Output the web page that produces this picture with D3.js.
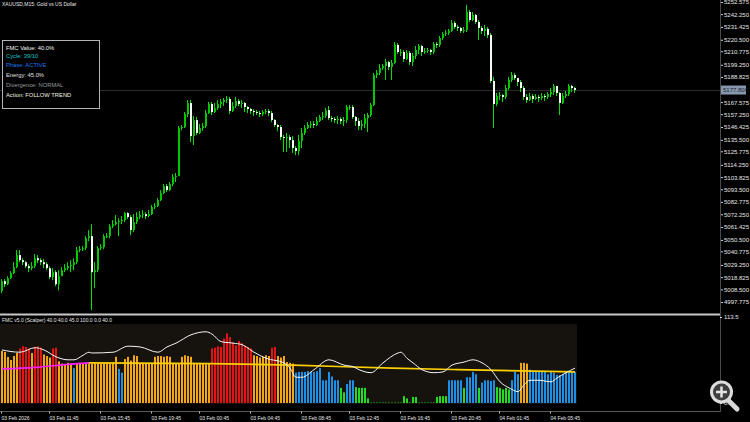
<!DOCTYPE html>
<html><head><meta charset="utf-8">
<script src="https://cdn.jsdelivr.net/npm/d3@7"></script>
<style>html,body{margin:0;padding:0;background:#000;}svg{display:block;}</style>
</head><body>
<svg id="c" width="750" height="422"></svg>
<script>
// ---------------- DATA ----------------
const symbolTitle = "XAUUSD,M15: Gold vs US Dollar";
const indicatorTitle = "FMC v5.0 (Scalper) 40.0 40.0 45.0 100.0 0.0 40.0";
const infoLines = ["FMC Value: 40.0%","Cycle: 39/10","Phase: ACTIVE","Energy: 45.0%","Divergence: NORMAL","Action: FOLLOW TREND"];

const opens = [5007.0,5015.5,5012.9,5018.0,5022.3,5027.4,5037.6,5033.3,5031.6,5028.2,
5026.5,5028.2,5035.0,5033.3,5031.6,5029.9,5026.5,5018.9,5023.1,5012.9,
5019.7,5024.8,5026.5,5028.2,5029.1,5031.6,5041.8,5042.7,5043.5,5052.0,
5053.7,5023.1,5024.8,5043.5,5044.4,5053.7,5053.7,5062.2,5063.9,5065.6,
5066.5,5067.3,5073.3,5069.9,5058.8,5065.6,5069.9,5071.6,5072.4,5070.7,
5072.4,5078.4,5079.2,5084.3,5090.3,5096.2,5092.8,5097.9,5103.9,5104.7,
5145.5,5146.4,5157.4,5166.8,5138.7,5152.3,5141.3,5145.5,5147.2,5158.3,
5165.9,5159.1,5162.5,5165.9,5167.6,5169.3,5170.2,5160.0,5164.2,5168.5,
5165.9,5166.8,5163.4,5161.7,5160.0,5159.1,5158.3,5157.4,5159.1,5160.0,
5158.3,5152.3,5148.1,5146.4,5137.9,5137.0,5137.9,5135.3,5128.5,5126.0,
5134.5,5141.3,5145.5,5148.1,5148.9,5148.1,5151.5,5154.9,5155.7,5160.8,
5154.0,5153.2,5152.3,5153.2,5151.5,5152.3,5163.4,5163.4,5154.9,5151.5,
5147.2,5148.9,5154.0,5156.6,5165.1,5190.6,5192.3,5196.5,5198.2,5201.6,
5197.4,5200.8,5216.1,5210.1,5210.1,5204.2,5209.3,5201.6,5206.7,5211.8,
5215.2,5210.1,5211.0,5211.8,5210.1,5216.9,5216.1,5222.0,5225.4,5226.3,
5228.0,5234.8,5231.4,5230.5,5228.0,5228.8,5244.1,5237.3,5241.6,5235.6,
5230.5,5228.0,5229.7,5224.6,5185.5,5165.9,5172.7,5173.6,5171.9,5179.5,
5186.3,5190.6,5188.0,5184.6,5179.5,5171.9,5169.3,5172.7,5170.2,5171.9,
5171.0,5172.7,5171.9,5174.4,5176.1,5181.2,5175.3,5166.8,5172.7,5174.4,
5181.2,5179.5];
const closes = [5015.5,5012.9,5018.0,5022.3,5027.4,5037.6,5033.3,5031.6,5028.2,5026.5,
5028.2,5035.0,5033.3,5031.6,5029.9,5026.5,5018.9,5023.1,5012.9,5019.7,
5024.8,5026.5,5028.2,5029.1,5031.6,5041.8,5042.7,5043.5,5052.0,5053.7,
5023.1,5024.8,5043.5,5044.4,5053.7,5053.7,5062.2,5063.9,5065.6,5066.5,
5067.3,5073.3,5069.9,5058.8,5065.6,5069.9,5071.6,5072.4,5070.7,5072.4,
5078.4,5079.2,5084.3,5090.3,5096.2,5092.8,5097.9,5103.9,5104.7,5145.5,
5146.4,5157.4,5166.8,5138.7,5152.3,5141.3,5145.5,5147.2,5158.3,5165.9,
5159.1,5162.5,5165.9,5167.6,5169.3,5170.2,5160.0,5164.2,5168.5,5165.9,
5166.8,5163.4,5161.7,5160.0,5159.1,5158.3,5157.4,5159.1,5160.0,5158.3,
5152.3,5148.1,5146.4,5137.9,5137.0,5137.9,5135.3,5128.5,5126.0,5134.5,
5141.3,5145.5,5148.1,5148.9,5148.1,5151.5,5154.9,5155.7,5160.8,5154.0,
5153.2,5152.3,5153.2,5151.5,5152.3,5163.4,5163.4,5154.9,5151.5,5147.2,
5148.9,5154.0,5156.6,5165.1,5190.6,5192.3,5196.5,5198.2,5201.6,5197.4,
5200.8,5216.1,5210.1,5210.1,5204.2,5209.3,5201.6,5206.7,5211.8,5215.2,
5210.1,5211.0,5211.8,5210.1,5216.9,5216.1,5222.0,5225.4,5226.3,5228.0,
5234.8,5231.4,5230.5,5228.0,5228.8,5244.1,5237.3,5241.6,5235.6,5230.5,
5228.0,5229.7,5224.6,5185.5,5165.9,5172.7,5173.6,5171.9,5179.5,5186.3,
5190.6,5188.0,5184.6,5179.5,5171.9,5169.3,5172.7,5170.2,5171.9,5171.0,
5172.7,5171.9,5174.4,5176.1,5181.2,5175.3,5166.8,5172.7,5174.4,5181.2,
5179.5,5177.8];
const highs = [5017.2,5017.2,5019.7,5024.0,5031.6,5041.8,5041.8,5035.0,5032.5,5029.9,
5031.6,5038.4,5037.6,5035.0,5034.2,5031.6,5028.2,5026.5,5024.8,5024.8,
5027.4,5029.9,5031.6,5033.3,5035.0,5044.4,5045.2,5045.2,5053.7,5058.8,
5063.9,5031.6,5045.2,5046.9,5055.4,5056.3,5063.9,5067.3,5071.6,5069.0,
5070.7,5074.1,5074.1,5071.6,5072.4,5074.1,5075.0,5075.8,5074.1,5075.8,
5080.1,5081.8,5086.0,5092.8,5097.9,5097.9,5099.6,5106.4,5107.3,5147.2,
5148.1,5159.1,5169.3,5169.3,5155.7,5154.9,5148.9,5149.8,5160.8,5167.6,
5167.6,5166.8,5169.3,5170.2,5171.0,5172.7,5171.9,5167.6,5171.9,5170.2,
5169.3,5167.6,5164.2,5162.5,5161.7,5160.8,5160.0,5160.8,5161.7,5161.7,
5160.0,5153.2,5148.9,5148.1,5139.6,5141.3,5139.6,5138.7,5130.2,5139.6,
5145.5,5148.1,5150.6,5151.5,5151.5,5154.9,5156.6,5159.1,5162.5,5164.2,
5155.7,5154.9,5155.7,5154.9,5154.9,5165.1,5165.1,5165.1,5155.7,5154.0,
5152.3,5157.4,5158.3,5166.8,5192.3,5194.8,5199.9,5199.9,5204.2,5202.5,
5203.3,5218.6,5217.7,5212.7,5211.8,5211.8,5211.0,5209.3,5215.2,5216.9,
5216.1,5213.5,5213.5,5212.7,5218.6,5218.6,5223.7,5227.1,5228.8,5229.7,
5237.3,5236.5,5233.1,5231.4,5231.4,5250.1,5245.8,5244.1,5242.4,5237.3,
5232.2,5233.1,5231.4,5226.3,5188.9,5175.3,5176.1,5174.4,5182.1,5188.9,
5193.1,5192.3,5188.0,5186.3,5181.2,5174.4,5175.3,5174.4,5174.4,5173.6,
5175.3,5174.4,5176.1,5179.5,5182.9,5181.2,5176.1,5175.3,5177.0,5182.9,
5182.1,5180.4];
const lows = [5005.3,5010.4,5012.1,5017.2,5021.4,5026.5,5031.6,5029.1,5026.5,5023.1,
5024.8,5026.5,5030.8,5029.1,5026.5,5024.8,5017.2,5016.3,5011.2,5007.8,
5020.6,5023.1,5024.8,5023.1,5024.8,5029.9,5040.1,5041.0,5041.8,5049.5,
4990.8,5009.5,5023.1,5041.8,5042.7,5052.0,5052.0,5060.5,5062.8,5053.7,
5063.9,5065.6,5068.2,5054.6,5057.1,5063.9,5068.2,5069.0,5068.2,5069.9,
5071.6,5076.7,5078.4,5083.5,5089.4,5091.1,5092.0,5096.2,5099.6,5104.7,
5143.8,5145.5,5154.9,5133.6,5131.1,5139.6,5140.4,5143.0,5145.5,5157.4,
5156.6,5158.3,5160.8,5162.5,5164.2,5166.8,5157.4,5159.1,5162.5,5164.2,
5162.5,5159.1,5158.3,5157.4,5155.7,5156.6,5154.9,5155.7,5157.4,5155.7,
5150.6,5146.4,5143.0,5135.3,5125.1,5125.1,5128.5,5124.3,5122.6,5122.6,
5128.5,5139.6,5144.7,5145.5,5145.5,5147.2,5150.6,5152.3,5154.0,5152.3,
5150.6,5149.8,5148.9,5148.9,5147.2,5149.8,5160.8,5153.2,5147.2,5143.8,
5143.8,5145.5,5142.1,5154.9,5164.2,5188.0,5190.6,5194.8,5186.3,5194.8,
5186.3,5199.9,5208.4,5206.7,5201.6,5203.3,5199.1,5198.2,5204.2,5208.4,
5206.7,5208.4,5209.3,5207.6,5208.4,5213.5,5214.4,5220.3,5223.7,5224.6,
5227.1,5229.7,5228.0,5226.3,5226.3,5227.1,5235.6,5236.5,5233.9,5220.3,
5225.4,5223.7,5222.0,5183.8,5145.5,5164.2,5169.3,5167.6,5170.2,5177.8,
5184.6,5186.3,5181.2,5176.1,5169.3,5166.8,5168.5,5166.8,5169.3,5167.6,
5169.3,5168.5,5170.2,5171.9,5173.6,5172.7,5156.6,5165.9,5171.0,5172.7,
5176.1,5175.3];

const fmcHist = [68.6,67.3,60.7,56.8,62.0,66.0,72,75,74,72,
66,74,75,73,64,62,60,72,73,55,
52,51,53,52,46,52,53,52,53,53,
52,53,53,52,53,53,52,53,61,45,
40,58,61,56,63,62,53,53,52,53,
53,61,62,62,61,62,61,53,53,52,
61,63,62,61,53,52,53,52,51,52,
72,73,75,74,85,92,87,80,76,82,
79,75,74,72,63,62,60,61,63,62,
73,74,62,60,62,54,53,52,40,41,
41,41,42,41,41,42,46,30,30,41,
35,30,30,20,14,25,30,30,21,20,
20,20,6,1.5,1.5,1.5,1.5,1.5,1.5,1.5,
1.5,1.5,1.5,1.5,9,6,1.5,8,8,1.5,
1.5,1.5,1.5,1.5,1.5,8,9,9,9,30,
30,30,30,30,20,34,34,41,38,20,
27,30,30,29,30,21,20,18,20,18,
30,41,38,53,53,52,44,41,41,42,
41,41,38,41,40,37,37,38,41,41,
42,41];

const whiteIdx = [0,6,11,14,18,22,24,27,29,30,37,42,46,52,55,58,63,68,70,73,77,80,84,88,94,96,98,100,104,109,114,117,119,123,127,132,133,135,137,140,144,147,150,154,157,160,163,166,169,172,174,176,179,183,185,188,191];
const whiteVal = [70,67,73,70,61,57,57,63,67,66,67,75,74,67,74,79,90,94,91,81,79,77,67,59,53,46,34,34,44,57,50,48,44,40,53,66,67,59,53,44,40,41,50,54,57,53,44,28,20,15,24,30,30,28,33,40,46];
const magentaIdx = [0,11,22,29];
const magentaVal = [45,47,51,53];
const yellowIdx = [29,70,97,130,152,191];
const yellowVal = [53,52,50,46,44,41];

const priceTickLabels = ["5252.575","5242.250","5231.425","5220.500","5210.775","5199.250","5188.825","5167.575","5157.250","5146.425","5135.500","5125.775","5114.250","5103.825","5093.500","5082.775","5072.250","5061.425","5050.500","5040.775","5029.250","5018.825","5008.500","4997.775"];
const timeTickIdx = [0,16,33,50,66,83,100,116,133,150,166,183];
const timeLabels = ["03 Feb 2026","03 Feb 11:45","03 Feb 15:45","03 Feb 19:45","03 Feb 00:45","03 Feb 04:45","03 Feb 08:45","03 Feb 12:45","03 Feb 16:45","03 Feb 20:45","04 Feb 01:45","04 Feb 05:45"];
const indTicks = [113.5, 0];

// ---------------- LAYOUT ----------------
const svg = d3.select("#c");
const FONT = "'Liberation Sans', Arial, sans-serif";
const AX = 720;           // right axis x
const n = closes.length;
const x = d3.scaleLinear().domain([0, n - 1]).range([1, 1 + 3 * (n - 1)]);
const y = d3.scaleLinear().domain([4997.775, 5252.575]).range([302, 2]);
const yi = d3.scaleLinear().domain([0, 113.5]).range([403, 317]);
const GREEN = "#00e000";

svg.append("rect").attr("width", 750).attr("height", 422).attr("fill", "#000");

// current price line
const lastPrice = closes[n - 1];
svg.append("line").attr("x1", 0).attr("x2", AX).attr("y1", Math.round(y(lastPrice)) + 0.5).attr("y2", Math.round(y(lastPrice)) + 0.5)
  .attr("stroke", "#2c2c2c").attr("stroke-width", 1);

// candles
const cg = svg.append("g");
d3.range(n).forEach(i => {
  const xi = Math.round(x(i));
  cg.append("line").attr("x1", xi + 0.5).attr("x2", xi + 0.5)
    .attr("y1", y(highs[i])).attr("y2", y(lows[i])).attr("stroke", GREEN).attr("stroke-width", 1);
  const top = y(Math.max(opens[i], closes[i])), bot = y(Math.min(opens[i], closes[i]));
  const bull = closes[i] >= opens[i];
  cg.append("rect").attr("x", xi).attr("width", 2)
    .attr("y", top).attr("height", Math.max(1, bot - top))
    .attr("fill", bull ? "#00c800" : "#f2fff2");
});

// separator
svg.append("rect").attr("x", 0).attr("y", 313.5).attr("width", AX).attr("height", 2).attr("fill", "#c8c8c8");

// indicator panel background
svg.append("rect").attr("x", 0).attr("y", 324).attr("width", 577).attr("height", 80).attr("fill", "#16120e");

function barColor(v) {
  if (v >= 70) return "#e21414";
  if (v >= 48) return "#f2a616";
  if (v >= 22) return "#1e8fe6";
  if (v >= 4) return "#22dd22";
  return "#135a13";
}
const bg = svg.append("g");
fmcHist.forEach((v, i) => {
  const xi = Math.round(x(i));
  bg.append("rect").attr("x", xi).attr("width", 2)
    .attr("y", yi(v)).attr("height", yi(0) - yi(v)).attr("fill", barColor(v));
});

function drawLine(idx, vals, color, w) {
  const pts = idx.map((k, j) => [x(k) + 1, yi(vals[j])]);
  svg.append("path").attr("d", d3.line().curve(d3.curveMonotoneX)(pts))
    .attr("fill", "none").attr("stroke", color).attr("stroke-width", w);
}
drawLine(yellowIdx, yellowVal, "#ffd000", 1.6);
drawLine(magentaIdx, magentaVal, "#ff20ff", 1.6);
drawLine(whiteIdx, whiteVal, "#f4f4f4", 1);

// right price axis
const pAxis = svg.append("g").attr("transform", `translate(${AX},0)`)
  .call(d3.axisRight(y).tickValues(priceTickLabels.map(Number)).tickFormat((d, i) => priceTickLabels[i]).tickSize(3).tickPadding(1));
pAxis.select(".domain").remove();
pAxis.selectAll("line").attr("stroke", "#d0d0d0");
pAxis.selectAll("text").attr("fill", "#e6e6e6").attr("font-size", 6).attr("font-family", FONT);

svg.append("line").attr("x1", AX + 0.5).attr("x2", AX + 0.5).attr("y1", 0).attr("y2", 412).attr("stroke", "#4a4a4a");

// current price label
const py = y(lastPrice);
svg.append("rect").attr("x", AX + 1).attr("y", py - 4.5).attr("width", 25).attr("height", 9).attr("fill", "#8797ad");
svg.append("text").attr("x", AX + 3).attr("y", py).attr("dy", "0.35em").attr("font-size", 6).attr("font-family", FONT)
  .attr("fill", "#1a2233").text(lastPrice.toFixed(3));

// indicator axis
const iAxis = svg.append("g").attr("transform", `translate(${AX},0)`)
  .call(d3.axisRight(yi).tickValues(indTicks).tickFormat(d3.format(".1f")).tickSize(2).tickPadding(2));
iAxis.select(".domain").remove();
iAxis.selectAll("line").attr("stroke", "#d0d0d0");
iAxis.selectAll("text").attr("fill", "#e6e6e6").attr("font-size", 6).attr("font-family", FONT);

// time axis
svg.append("line").attr("x1", 0).attr("x2", AX).attr("y1", 411.5).attr("y2", 411.5).attr("stroke", "#5a5a5a");
const tAxis = svg.append("g").attr("transform", "translate(0,411.5)")
  .call(d3.axisBottom(x).tickValues(timeTickIdx).tickFormat((d, i) => timeLabels[i]).tickSize(2).tickPadding(2));
tAxis.select(".domain").remove();
tAxis.selectAll("line").attr("stroke", "#c0c0c0");
tAxis.selectAll("text").attr("fill", "#e6e6e6").attr("font-size", 5).attr("font-family", FONT)
  .attr("text-anchor", "start").attr("dy", "0.9em");

// titles
svg.append("text").attr("x", 2).attr("y", 4).attr("dy", "0.35em").attr("font-size", 5).attr("font-family", FONT)
  .attr("fill", "#e8e8e8").text(symbolTitle);
svg.append("text").attr("x", 2).attr("y", 320).attr("dy", "0.35em").attr("font-size", 5).attr("font-family", FONT)
  .attr("fill", "#e8e8e8").text(indicatorTitle);

// info box
svg.append("rect").attr("x", 2.5).attr("y", 40.5).attr("width", 97).attr("height", 68)
  .attr("fill", "#000").attr("stroke", "#b4b4b4").attr("stroke-width", 1);
const infoColors = ["#f4f4f4", "#18c8c8", "#1e78f0", "#e0e0e0", "#9a9a9a", "#f4f4e0"];
const infoY = [47.5, 55.5, 65, 75, 84.5, 94.5];
infoLines.forEach((t, i) => {
  svg.append("text").attr("x", 6).attr("y", infoY[i]).attr("dy", "0.35em").attr("font-size", 5.8)
    .attr("font-family", FONT).attr("fill", infoColors[i]).text(t);
});

// magnifier icon
const mg = svg.append("g");
mg.append("line").attr("x1", 728).attr("y1", 400).attr("x2", 737).attr("y2", 409)
  .attr("stroke", "#d8d8d8").attr("stroke-width", 5).attr("stroke-linecap", "round");
mg.append("circle").attr("cx", 721.5).attr("cy", 392).attr("r", 10)
  .attr("fill", "rgba(70,70,70,0.9)").attr("stroke", "#dcdcdc").attr("stroke-width", 3);
mg.append("line").attr("x1", 716).attr("x2", 727).attr("y1", 392).attr("y2", 392).attr("stroke", "#e4e4e4").attr("stroke-width", 2.5);
mg.append("line").attr("x1", 721.5).attr("x2", 721.5).attr("y1", 386.5).attr("y2", 397.5).attr("stroke", "#e4e4e4").attr("stroke-width", 2.5);
</script>
</body></html>
